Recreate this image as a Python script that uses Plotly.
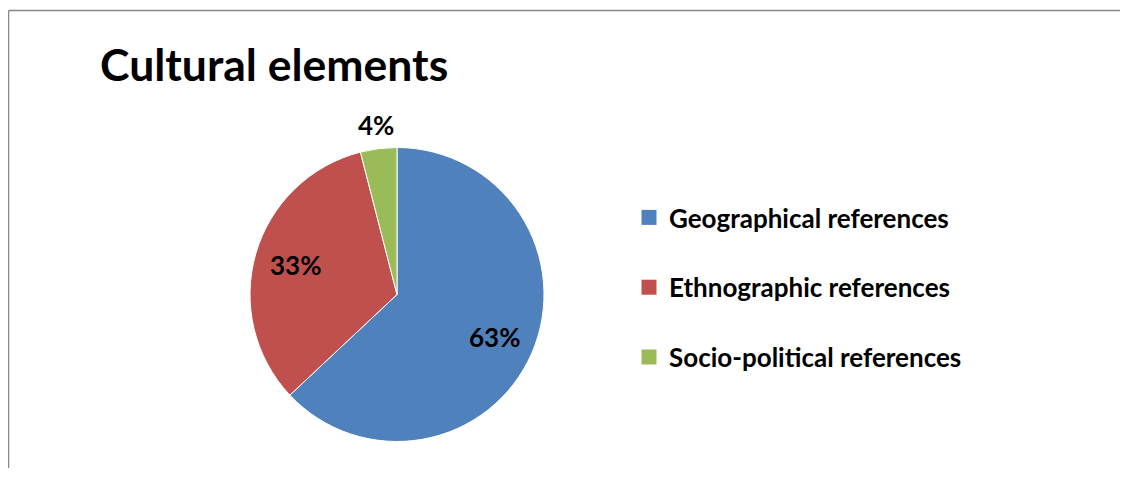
import math
import plotly.graph_objects as go

categories = ["Geographical references", "Ethnographic references", "Socio-political references"]
values = [63, 33, 4]
colors = ["#4F81BD", "#C0504D", "#9BBB59"]
label_inside = [True, True, False]
title_text = "Cultural elements"

# page body has an 8px margin on every side; figure sized so no scrollbars appear
OFF = 8
W, H = 1128 - 2 * OFF, 490 - 2 * OFF - 14
FONT = "Lato"


def px(x):
    return (x - OFF) / W


def py(y):
    return 1 - (y - OFF) / H


fig = go.Figure()

cx, cy, r = 397, 294.5, 147
fig.add_trace(go.Pie(
    labels=categories,
    values=values,
    sort=False,
    direction="clockwise",
    rotation=0,
    marker=dict(colors=colors, line=dict(color="white", width=1)),
    textinfo="none",
    showlegend=False,
    hoverinfo="label+percent",
    domain=dict(x=[px(cx - r), px(cx + r)], y=[py(cy + r), py(cy - r)]),
))

# percentage labels placed along each slice's mid-angle
total = sum(values)
annotations = []
cum = 0
for v, inside in zip(values, label_inside):
    mid = (cum + v / 2) / total * 2 * math.pi
    cum += v
    rr = r * (0.72 if inside else 1.16)
    lx = cx + rr * math.sin(mid)
    ly = cy - rr * math.cos(mid)
    annotations.append(dict(
        text=f"{round(v / total * 100)}%", x=px(lx), y=py(ly), xref="paper", yref="paper",
        showarrow=False, xanchor="center", yanchor="middle",
        font=dict(family=FONT, size=26, color="black", weight=700),
    ))

for i, (cat, col) in enumerate(zip(categories, colors)):
    fig.add_trace(go.Scatter(
        x=[None], y=[None], mode="markers", name=cat,
        marker=dict(symbol="square", size=15, color=col),
        legendgroup=f"g{i}", showlegend=True, hoverinfo="skip",
    ))

fig.update_layout(
    width=W, height=H,
    margin=dict(l=0, r=0, t=0, b=0),
    paper_bgcolor="white", plot_bgcolor="white",
    xaxis=dict(visible=False), yaxis=dict(visible=False),
    title=dict(text=title_text, x=px(100), xanchor="left", xref="paper",
               y=py(65), yanchor="middle", yref="paper",
               font=dict(family=FONT, size=44.5, color="black", weight=700)),
    legend=dict(x=px(629), xanchor="left", y=py(194), yanchor="top",
                font=dict(family=FONT, size=26, color="black", weight=700),
                tracegroupgap=33, bgcolor="rgba(0,0,0,0)"),
    annotations=annotations,
    shapes=[
        dict(type="line", xref="paper", yref="paper",
             x0=px(8.5), x1=1.0, y0=py(10.5), y1=py(10.5),
             line=dict(color="#878787", width=1.5), layer="above"),
        dict(type="line", xref="paper", yref="paper",
             x0=px(8.5), x1=px(8.5), y0=0.0, y1=py(10.5),
             line=dict(color="#878787", width=1.5), layer="above"),
    ],
)

fig.write_html("out.html")
